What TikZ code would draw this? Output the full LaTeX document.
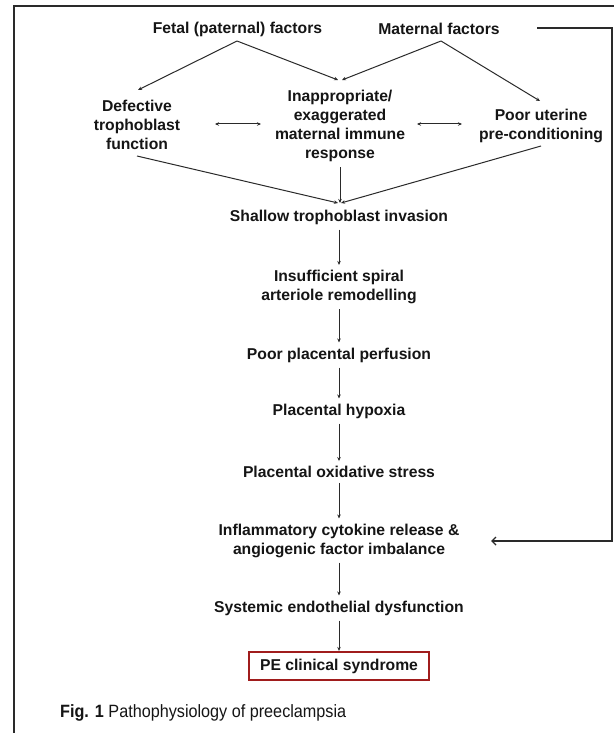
\documentclass[tikz,border=0pt]{standalone}
\usepackage{fontspec}
\setmainfont{Liberation Sans}
\newfontfamily\capfont[FakeStretch=0.91]{Liberation Sans}
\usetikzlibrary{arrows.meta,calc}
\definecolor{ink}{HTML}{151515}
\definecolor{lin}{HTML}{2A2A2A}
\definecolor{boxred}{HTML}{A01C1C}
\begin{document}
\begin{tikzpicture}[x=1pt,y=-1pt,
  txt/.style={font=\fontsize{15.7}{19}\selectfont\bfseries, text=ink, align=center, inner sep=0pt},
  conn/.style={draw=lin, line width=1pt},
  tip/.style={-{Stealth[length=4pt,width=3.5pt]}},
  dtip/.style={{Stealth[length=4pt,width=3.5pt]}-{Stealth[length=4pt,width=3.5pt]}},
  chain/.style={conn, tip, shorten <=5pt, shorten >=5pt}]
\useasboundingbox (0,0) rectangle (614,733);
\fill[white] (0,0) rectangle (614,733);
% frame
\draw[lin, line width=1.4pt] (14,733) -- (14,6) -- (614,6);
% nodes
\node[txt] (fetal) at (237.5,29) {Fetal (paternal) factors};
\node[txt] (mat) at (439,29) {Maternal factors};
\node[txt] (def) at (137,125) {Defective\\trophoblast\\function};
\node[txt] (imm) at (340,125.5) {Inappropriate/\\exaggerated\\maternal immune\\response};
\node[txt] (ute) at (541,125.5) {Poor uterine\\pre-conditioning};
\node[txt] (sha) at (339,217) {Shallow trophoblast invasion};
\node[txt] (ins) at (339,287) {Insufficient spiral\\arteriole remodelling};
\node[txt] (per) at (339,355) {Poor placental perfusion};
\node[txt] (hyp) at (339,411) {Placental hypoxia};
\node[txt] (oxi) at (339,472) {Placental oxidative stress};
\node[txt] (inf) at (339,540.5) {Inflammatory cytokine release \&\\angiogenic factor imbalance};
\node[txt] (sys) at (339,608) {Systemic endothelial dysfunction};
\node[txt, draw=boxred, line width=2.2pt, minimum width=180pt, minimum height=28pt] (pe) at (339,666) {PE clinical syndrome};
% coordinates
\coordinate (fpk) at (237,41);
\coordinate (mpk) at (441,41);
\coordinate (deftip) at (138,90);
\coordinate (immtipL) at (338,80);
\coordinate (immtipR) at (342,80);
\coordinate (utetip) at (540,101);
\coordinate (defout) at (137,156);
\coordinate (uteout) at (541,146);
\coordinate (immout) at (340,167);
\coordinate (convL) at (338,203);
\coordinate (convM) at (340,203);
\coordinate (convR) at (341,203);
% upper fork lines
\draw[conn, tip] (fpk) -- (deftip);
\draw[conn, tip] (fpk) -- (immtipL);
\draw[conn, tip] (mpk) -- (immtipR);
\draw[conn, tip] (mpk) -- (utetip);
% double arrows
\draw[conn, dtip] (215,124) -- (261,124);
\draw[conn, dtip] (417,124) -- (462,124);
% converging lines
\draw[conn, tip] (defout) -- (convL);
\draw[conn, tip] (uteout) -- (convR);
\draw[conn, tip] (immout) -- (convM);
% chain
\draw[chain] (sha) -- (ins);
\draw[chain] (ins) -- (per);
\draw[chain] (per) -- (hyp);
\draw[chain] (hyp) -- (oxi);
\draw[chain] (oxi) -- (inf);
\draw[chain] (inf) -- (sys);
\draw[conn, tip, shorten <=5pt] (sys) -- (pe);
% feedback
\coordinate (fbstart) at (537,28);
\coordinate (fbend) at (491,541);
\draw[lin, line width=1.4pt, -{Straight Barb[length=4pt,width=8pt]}] (fbstart) -- (612,28) -- (612,541) -- (fbend);
% caption
\node[anchor=west, inner sep=0pt, text=ink, font=\capfont\fontsize{17.8}{20}\selectfont] (cap) at (60,713) {\textbf{Fig. 1} Pathophysiology of preeclampsia};
\end{tikzpicture}
\end{document}
